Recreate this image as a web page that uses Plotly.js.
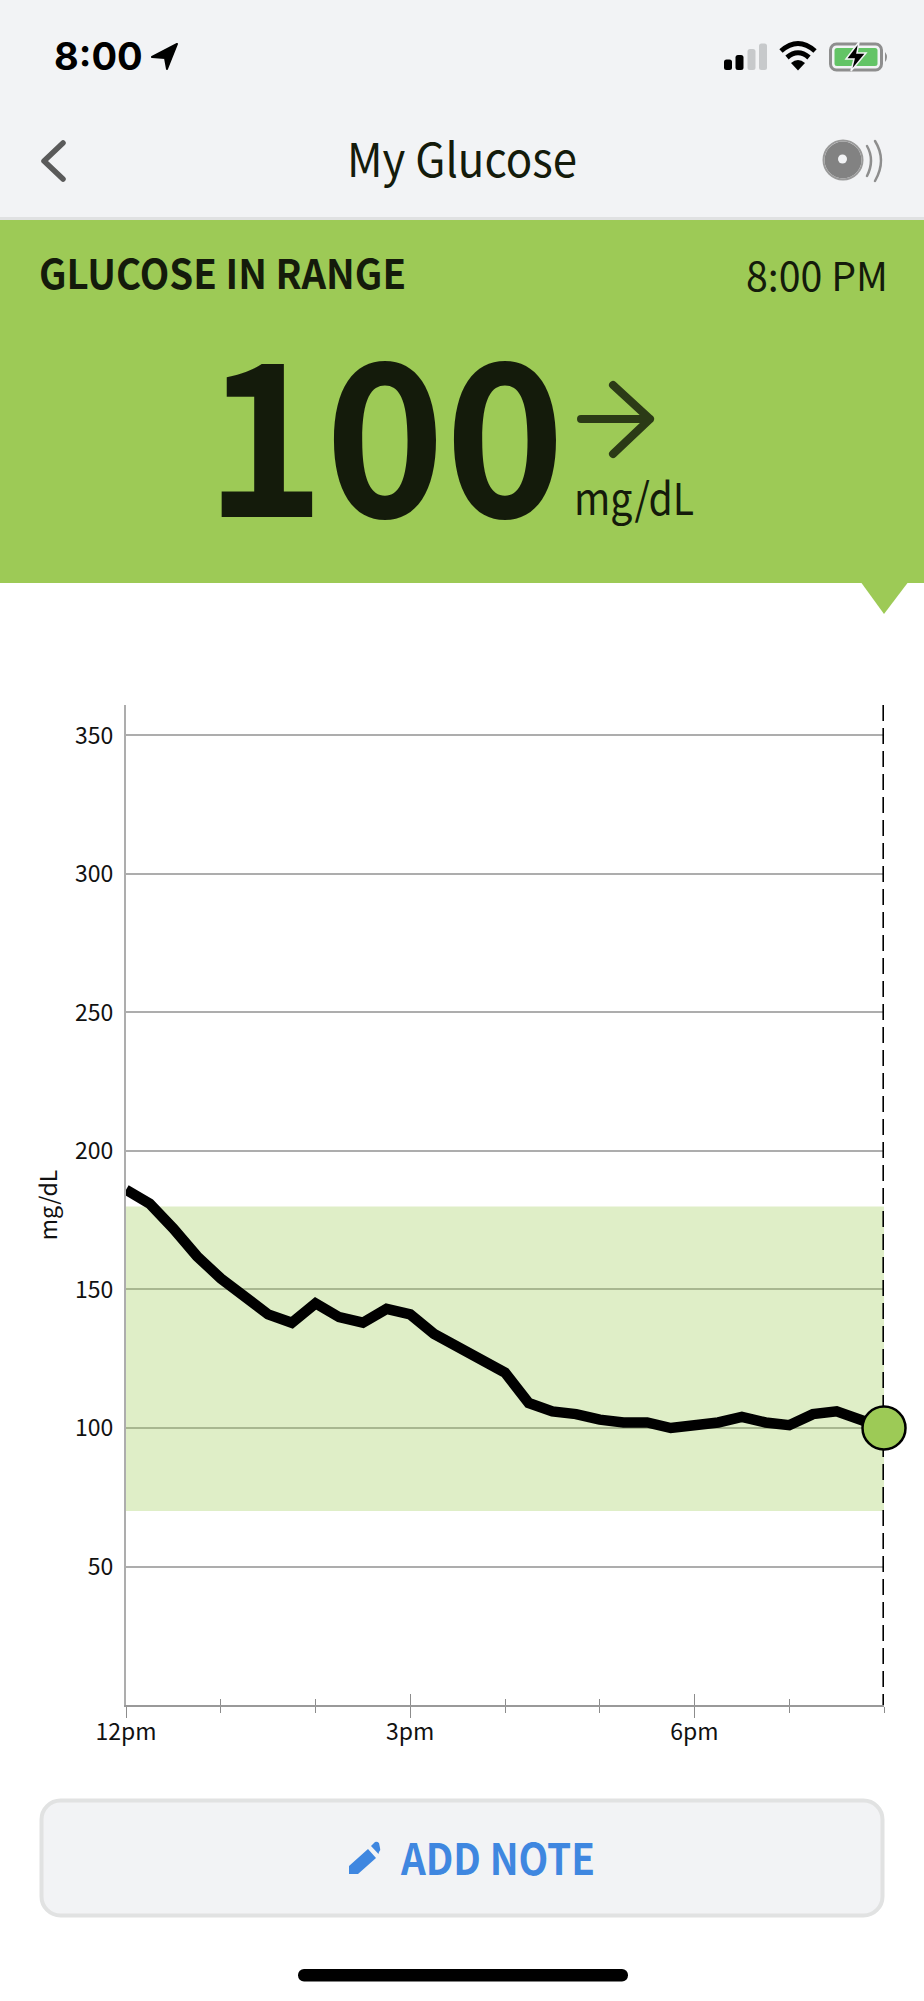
<!DOCTYPE html>
<html>
<head>
<meta charset="utf-8">
<title>My Glucose</title>
<script src="https://cdn.plot.ly/plotly-3.0.1.min.js"></script>
<style>
  html, body { margin: 0; padding: 0; width: 924px; height: 2001px; overflow: hidden; background: #fff; }
  #chrome, #chart { position: absolute; left: 0; top: 0; width: 924px; height: 2001px; }
  #chrome text { font-family: "Noto Sans CJK JP", "Noto Sans", sans-serif; fill: #141b0b; }
</style>
</head>
<body>
<svg id="chrome" viewBox="0 0 924 2001" xmlns="http://www.w3.org/2000/svg">
  <!-- nav area -->
  <rect x="0" y="0" width="924" height="217" fill="#f2f3f5"/>
  <rect x="0" y="217" width="924" height="3" fill="#e0e1e2"/>

  <!-- status bar -->
  <text x="54" y="70" font-size="38" font-weight="700" style="font-family:Inter,Roboto,sans-serif;fill:#000">8:00</text>
  <path d="M177 44 L152 57 L165 58 L167 69 Z" fill="#000" stroke="#000" stroke-width="2" stroke-linejoin="round"/>
  <rect x="724" y="59.5" width="8" height="10.5" rx="2.5" fill="#000"/>
  <rect x="735.5" y="55" width="8" height="15" rx="2.5" fill="#000"/>
  <rect x="747.5" y="49" width="8" height="21" rx="2.5" fill="#c7c9cb"/>
  <rect x="759" y="43.5" width="8" height="26.5" rx="2.5" fill="#c7c9cb"/>
  <path d="M781 51 Q798 36 815 51" fill="none" stroke="#000" stroke-width="5"/>
  <path d="M787 57.5 Q798 48 809 57.5" fill="none" stroke="#000" stroke-width="5"/>
  <path d="M791 63 L798 70.5 L805 63 Q798 57 791 63 Z" fill="#000"/>
  <rect x="830.5" y="44" width="51" height="26" rx="6" fill="none" stroke="#8e8e8e" stroke-width="3"/>
  <rect x="834.5" y="48" width="43" height="18" rx="2.5" fill="#63c466"/>
  <path d="M885 52 Q889 57 885 62 Z" fill="#8e8e8e"/>
  <path d="M859 42 L846 59 L854 59 L851 71 L866 53 L857 53 Z" fill="#000" stroke="#f2f3f5" stroke-width="1.5"/>

  <!-- nav bar -->
  <path d="M63 143 L44 161 L63 179" fill="none" stroke="#5a5a5a" stroke-width="5.5" stroke-linecap="round" stroke-linejoin="round"/>
  <text x="462" y="177" font-size="47" text-anchor="middle" textLength="230" lengthAdjust="spacingAndGlyphs">My Glucose</text>
  <circle cx="843" cy="160" r="18.5" fill="#828282" stroke="none"/>
  <circle cx="843" cy="160" r="19.5" fill="none" stroke="#9a9a9a" stroke-width="2"/>
  <circle cx="842.5" cy="159" r="4.5" fill="#f2f3f5"/>
  <path d="M867 146 Q875 160 867 176" fill="none" stroke="#8e8e8e" stroke-width="2.5" stroke-linecap="round"/>
  <path d="M875 141 Q887 160 875 181" fill="none" stroke="#8e8e8e" stroke-width="2.5" stroke-linecap="round"/>

  <!-- green banner -->
  <rect x="0" y="220" width="924" height="363" fill="#9dca56"/>
  <path d="M861.5 583 L907.5 583 L884 614 Z" fill="#9dca56"/>
  <text x="39" y="289" font-size="41" font-weight="700" textLength="367" lengthAdjust="spacingAndGlyphs">GLUCOSE IN RANGE</text>
  <text x="888" y="291" font-size="40" text-anchor="end" textLength="142" lengthAdjust="spacingAndGlyphs">8:00 PM</text>
  <text id="big-value" x="385" y="517" font-size="212" font-weight="700" text-anchor="middle" textLength="360" lengthAdjust="spacingAndGlyphs"></text>
  <path d="M581 419 L650 419 M613 385 L650 419 M613 454 L650 419" fill="none" stroke="#2b3a16" stroke-width="8" stroke-linecap="round" stroke-linejoin="round"/>
  <text x="574" y="515" font-size="44" textLength="120" lengthAdjust="spacingAndGlyphs">mg/dL</text>

  <!-- button -->
  <rect x="41.5" y="1800.5" width="841" height="115" rx="19" fill="#f2f3f5" stroke="#e1e2e2" stroke-width="4"/>
  <path d="M349 1866 L368 1849 L376 1858 L358 1874 L349 1874 Z M371 1846 L375 1842 Q377 1841 379 1843 L380 1848 Q381 1850 379 1852 L378.500 1854 Z" fill="#3f87e0"/>
  <text x="401" y="1875" font-size="43" font-weight="700" textLength="194" lengthAdjust="spacingAndGlyphs" style="fill:#3f87e0">ADD NOTE</text>

  <!-- home indicator -->
  <rect x="298" y="1969" width="330" height="12.500" rx="6" fill="#000"/>
</svg>
<div id="chart"></div>
<script>
// hours after 12pm, one reading every 15 minutes
const hours = [0, 0.25, 0.5, 0.75, 1, 1.25, 1.5, 1.75, 2, 2.25, 2.5, 2.75, 3, 3.25, 3.5, 3.75,
  4, 4.25, 4.5, 4.75, 5, 5.25, 5.5, 5.75, 6, 6.25, 6.5, 6.75, 7, 7.25, 7.5, 7.75, 8];
const glucose = [186, 181, 172, 162, 154, 148, 141, 138, 145, 140, 138, 143, 141, 134, 129, 124,
  120, 109, 106, 105, 103, 102, 102, 100, 101, 102, 104, 102, 101, 105, 106, 103, 100];

const rangeLow = 70;
const rangeHigh = 180;
const yTicks = [50, 100, 150, 200, 250, 300, 350];
const xTicks = [0, 3, 6];
const xLabels = ['12pm', '3pm', '6pm'];
const yMax = 361;
const xMax = 8;

const green = '#9dca56';
const axisGrey = '#adadad';
const fontUI = '"Noto Sans CJK JP", "Noto Sans", sans-serif';

document.getElementById('big-value').textContent = glucose[glucose.length - 1];

const traces = [
  {
    type: 'scatter', mode: 'lines', x: hours, y: glucose,
    line: { color: '#000', width: 10.5 },
    hoverinfo: 'skip', showlegend: false
  },
  {
    // now cursor
    type: 'scatter', mode: 'lines', xaxis: 'x2', cliponaxis: false,
    x: [xMax, xMax], y: [yMax, 0],
    line: { color: '#000', width: 3.2, dash: '16px,7px' },
    hoverinfo: 'skip', showlegend: false
  },
  {
    type: 'scatter', mode: 'markers', xaxis: 'x2', cliponaxis: false,
    x: [hours[hours.length - 1]], y: [glucose[glucose.length - 1]],
    marker: { color: green, size: 43, line: { color: '#000', width: 2.5 } },
    hoverinfo: 'skip', showlegend: false
  }
];

const layout = {
  width: 924, height: 2001,
  paper_bgcolor: 'rgba(0,0,0,0)', plot_bgcolor: 'rgba(0,0,0,0)',
  font: { family: fontUI, size: 23, color: '#111' },
  margin: { l: 126, r: 40, t: 705, b: 296, pad: 0 },
  showlegend: false,
  xaxis: {
    range: [0, xMax], tickmode: 'array', tickvals: xTicks, ticktext: xLabels,
    ticks: 'outside', ticklen: 11, tickwidth: 1, tickcolor: '#8c8c8c', ticklabelstandoff: -6,
    minor: { dtick: 1, tick0: 0, ticks: 'outside', ticklen: 6, tickwidth: 1, tickcolor: '#8c8c8c', showgrid: false },
    showgrid: false, zeroline: false, showline: true, linecolor: '#999', linewidth: 2,
    tickfont: { family: fontUI, size: 23, color: '#111' }
  },
  xaxis2: {
    overlaying: 'x', anchor: 'y', side: 'bottom',
    range: [0, xMax], tickmode: 'array', tickvals: xTicks, ticktext: ['', '', ''],
    ticks: 'inside', ticklen: 11, tickwidth: 1, tickcolor: '#8c8c8c',
    minor: { dtick: 1, tick0: 0, ticks: 'inside', ticklen: 6, tickwidth: 1, tickcolor: '#8c8c8c', showgrid: false },
    showgrid: false, zeroline: false, showline: false
  },
  yaxis: {
    range: [0, yMax], tickmode: 'array', tickvals: yTicks,
    ticks: '', ticklabelstandoff: 6,
    showgrid: true, gridcolor: axisGrey, gridwidth: 2,
    zeroline: false, showline: true, linecolor: axisGrey, linewidth: 2,
    tickfont: { family: fontUI, size: 23, color: '#111' },
    title: { text: 'mg/dL', standoff: 11, font: { family: fontUI, size: 23, color: '#111' } }
  },
  shapes: [{
    type: 'rect', layer: 'between', xref: 'x', yref: 'y',
    x0: 0, x1: xMax, y0: rangeLow, y1: rangeHigh,
    fillcolor: 'rgba(157,202,86,0.33)', line: { width: 0 }
  }]
};

Plotly.newPlot('chart', traces, layout, { displayModeBar: false, staticPlot: true });
</script>
</body>
</html>
